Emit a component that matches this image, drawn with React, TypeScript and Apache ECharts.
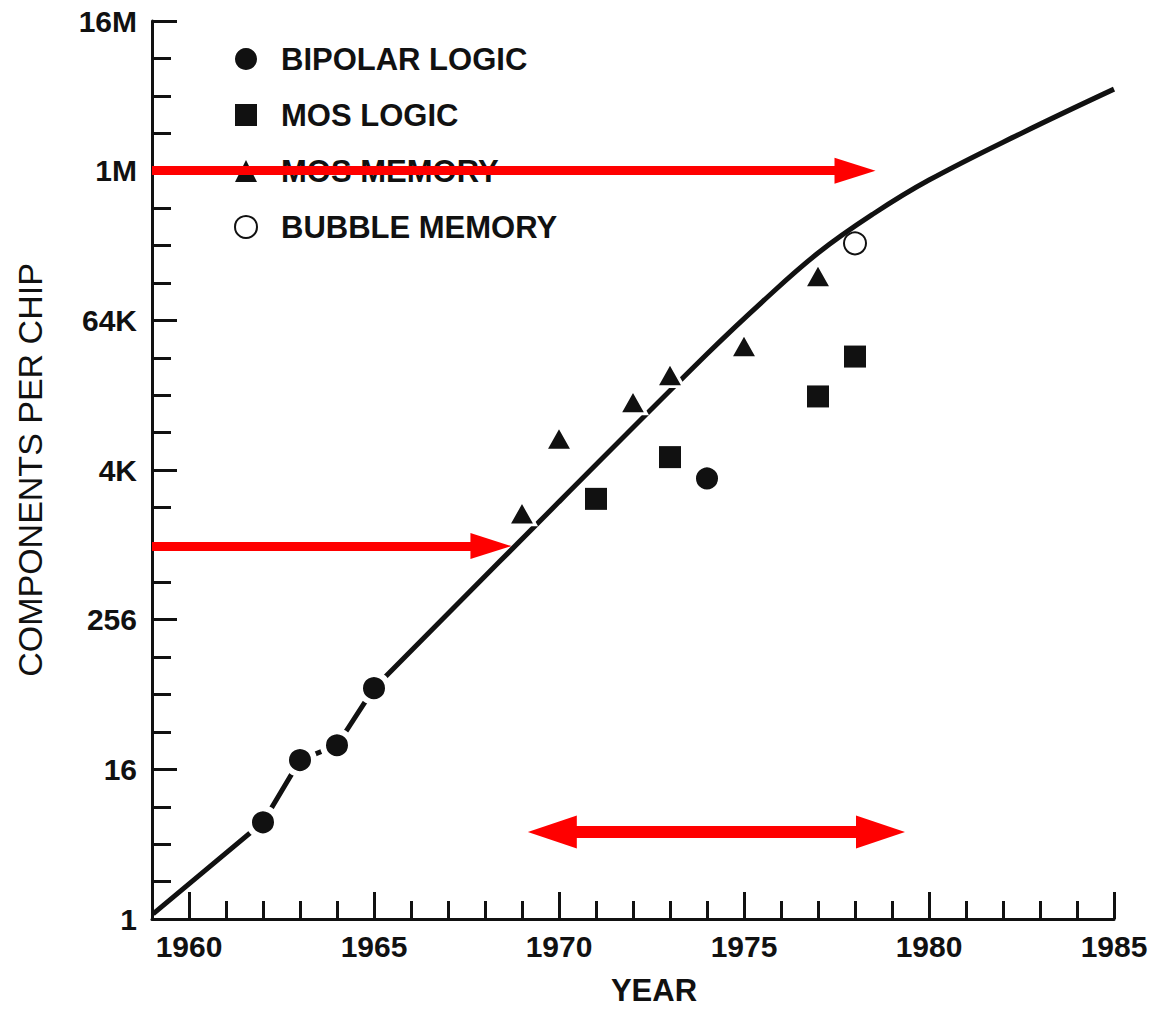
import React, { useEffect, useRef } from "react";
import * as echarts from "echarts";

// ---------- data (years, components per chip) ----------
const bipolarLogic: [number, number][] = [
  [1962, 6],
  [1963, 19],
  [1964, 25],
  [1965, 72],
  [1974, 3500],
];
const mosLogic: [number, number][] = [
  [1971, 2400],
  [1973, 5200],
  [1977, 16000],
  [1978, 33500],
];
const mosMemory: [number, number][] = [
  [1969, 1850],
  [1970, 7400],
  [1972, 14500],
  [1973, 24000],
  [1975, 41000],
  [1977, 150000],
];
const bubbleMemory: [number, number][] = [[1978, 273000]];

const trendEarly: [number, number][] = [
  [1959.03, 1.1],
  [1962, 6],
  [1963, 19],
  [1964, 25],
  [1965, 72],
];
const trendMain: [number, number][] = [
  [1965, 72],
  [1970, 2270],
  [1974, 35100],
  [1975.5, 92700],
  [1977, 228000],
  [1978.5, 472000],
  [1980, 881000],
  [1982.5, 2100000],
  [1985, 4750000],
];

// y tick labels at every 4 doublings (1, 16, 256, ...)
const yTickLabels = ["1", "16", "256", "4K", "64K", "1M", "16M"];
const xLabelYears = [1960, 1965, 1970, 1975, 1980, 1985];
const xTickYears = [
  1960, 1961, 1962, 1963, 1964, 1965, 1966, 1967, 1968, 1969, 1970, 1971, 1972,
  1973, 1974, 1975, 1976, 1977, 1978, 1979, 1980, 1981, 1982, 1983, 1984, 1985,
];

// red annotation arrows (year from, year to, level in components)
const arrowAnnotations = [
  { x0: 1959, x1: 1978.0, level: 1048576, both: false },
  { x0: 1959, x1: 1968.16, level: 1000, both: false },
  { x0: 1969.82, x1: 1978.69, level: 5, both: true },
];

const FONT = "'Liberation Sans', Arial, Helvetica, sans-serif";
const INK = "#111111";
const RED = "#ff0000";

const lg = (v: number) => Math.log2(v);
const toXY = (arr: [number, number][]) => arr.map(([x, y]) => [x, lg(y)]);

export default function App() {
  const ref = useRef<HTMLDivElement>(null);

  useEffect(() => {
    document.body.style.margin = "0";
    if (!ref.current) return;
    const chart = echarts.init(ref.current, undefined, { renderer: "svg" });

    const tickLine = { color: INK, width: 3 };

    const option: any = {
      animation: false,
      backgroundColor: "#ffffff",
      grid: { left: 152, right: 47, top: 21, bottom: 88, containLabel: false },
      legend: {
        orient: "vertical",
        left: 234,
        top: 43,
        padding: 0,
        itemWidth: 22,
        itemHeight: 22,
        itemGap: 24,
        selectedMode: false,
        textStyle: {
          fontSize: 31,
          fontWeight: "bold",
          color: INK,
          fontFamily: FONT,
          lineHeight: 32,
          padding: [0, 0, 0, 19],
        },
        data: [
          { name: "BIPOLAR LOGIC", itemStyle: { borderWidth: 0, opacity: 1 } },
          { name: "MOS LOGIC", itemStyle: { opacity: 1 } },
          { name: "MOS MEMORY", itemStyle: { borderWidth: 0, opacity: 1 } },
          { name: "BUBBLE MEMORY", itemStyle: { opacity: 1 } },
        ],
      },
      xAxis: [
        {
          type: "value",
          min: 1959,
          max: 1985,
          position: "bottom",
          axisLine: { show: true, lineStyle: tickLine },
          axisTick: {
            show: true,
            inside: true,
            length: 18,
            customValues: xTickYears,
            lineStyle: tickLine,
          },
          axisLabel: {
            customValues: xLabelYears,
            formatter: (v: number) => String(v),
            fontSize: 30,
            fontWeight: "bold",
            color: INK,
            fontFamily: FONT,
            margin: 12,
          },
          splitLine: { show: false },
          name: "YEAR",
          nameLocation: "middle",
          nameGap: 56,
          nameTextStyle: {
            fontSize: 31,
            fontWeight: "bold",
            color: INK,
            fontFamily: FONT,
            padding: [0, 0, 0, 42],
          },
        },
        {
          type: "value",
          min: 1959,
          max: 1985,
          position: "bottom",
          axisLine: { show: false },
          axisTick: {
            show: true,
            inside: true,
            length: 27,
            customValues: xLabelYears,
            lineStyle: tickLine,
          },
          axisLabel: { show: false },
          splitLine: { show: false },
        },
      ],
      yAxis: {
        type: "value",
        min: 0,
        max: 24,
        interval: 4,
        axisLine: { show: true, lineStyle: tickLine },
        axisTick: { show: true, inside: true, length: 25, lineStyle: tickLine },
        minorTick: { show: true, splitNumber: 4, length: 19, lineStyle: tickLine },
        axisLabel: {
          formatter: (v: number) => yTickLabels[Math.round(v / 4)] ?? "",
          fontSize: 30,
          fontWeight: "bold",
          color: INK,
          fontFamily: FONT,
          margin: 15,
        },
        splitLine: { show: false },
        minorSplitLine: { show: false },
        name: "COMPONENTS PER CHIP",
        nameLocation: "middle",
        nameGap: 105,
        nameTextStyle: { fontSize: 34, color: INK, fontFamily: FONT },
      },
      series: [
        {
          name: "trend-early",
          type: "line",
          data: toXY(trendEarly),
          showSymbol: false,
          symbol: "none",
          smooth: false,
          lineStyle: { color: INK, width: 5 },
          z: 2,
          silent: true,
        },
        {
          name: "trend",
          type: "line",
          data: toXY(trendMain),
          showSymbol: false,
          symbol: "none",
          smooth: 0.4,
          lineStyle: { color: INK, width: 5 },
          z: 2,
          silent: true,
        },
        {
          name: "BIPOLAR LOGIC",
          type: "scatter",
          data: toXY(bipolarLogic),
          symbol: "circle",
          symbolSize: 28,
          itemStyle: { color: INK, borderColor: "#ffffff", borderWidth: 6, opacity: 1 },
          z: 3,
          silent: true,
        },
        {
          name: "MOS LOGIC",
          type: "scatter",
          data: toXY(mosLogic),
          symbol: "rect",
          symbolSize: 22,
          itemStyle: { color: INK, opacity: 1 },
          z: 3,
          silent: true,
        },
        {
          name: "MOS MEMORY",
          type: "scatter",
          data: toXY(mosMemory),
          symbol: "triangle",
          symbolSize: [27, 24],
          itemStyle: { color: INK, borderColor: "#ffffff", borderWidth: 3, opacity: 1 },
          z: 3,
          silent: true,
        },
        {
          name: "BUBBLE MEMORY",
          type: "scatter",
          data: toXY(bubbleMemory),
          symbol: "circle",
          symbolSize: 22,
          itemStyle: { color: "#ffffff", borderColor: INK, borderWidth: 2, opacity: 1 },
          z: 3,
          silent: true,
        },
        {
          name: "arrows",
          type: "line",
          data: [],
          z: 10,
          silent: true,
          markLine: {
            silent: true,
            animation: false,
            label: { show: false },
            emphasis: { disabled: true },
            lineStyle: { color: RED, type: "solid", width: 9, opacity: 1 },
            data: arrowAnnotations.map((a) => {
              const size = a.both ? [33, 49] : [26, 41];
              const ls = { color: RED, type: "solid", width: a.both ? 12 : 9, opacity: 1 };
              return [
                {
                  coord: [a.x0, lg(a.level)],
                  symbol: a.both ? "triangle" : "none",
                  symbolSize: size,
                  lineStyle: ls,
                  itemStyle: { color: RED },
                },
                {
                  coord: [a.x1, lg(a.level)],
                  symbol: "triangle",
                  symbolSize: size,
                  lineStyle: ls,
                  itemStyle: { color: RED },
                },
              ];
            }),
          },
        },
      ],
    };

    chart.setOption(option);
    return () => chart.dispose();
  }, []);

  return <div ref={ref} style={{ width: 1161, height: 1011 }} />;
}
